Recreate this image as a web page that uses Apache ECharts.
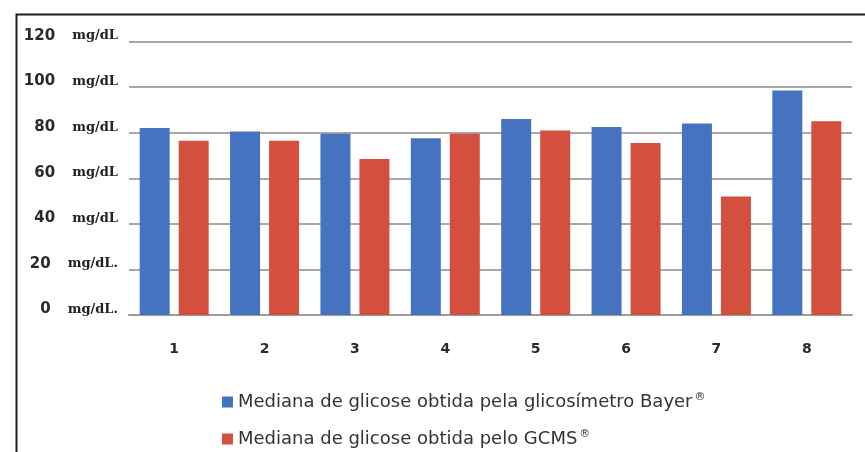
<!DOCTYPE html>
<html>
<head>
<meta charset="utf-8">
<script src="https://cdn.jsdelivr.net/npm/echarts@6/dist/echarts.min.js"></script>
<style>
  html, body { margin: 0; padding: 0; background: #ffffff; }
  #chart { width: 865px; height: 452px; }
</style>
</head>
<body>
<div id="chart"></div>
<script>
const categories = ['1', '2', '3', '4', '5', '6', '7', '8'];
const bayerValues = [82, 80.5, 79.5, 77.5, 86, 82.5, 84, 98.5];
const gcmsValues = [76.5, 76.5, 68.5, 79.5, 81, 75.5, 52, 85];
const yTickValues = [0, 20, 40, 60, 80, 100, 120];
const yTickUnits = ['mg/dL.', 'mg/dL.', 'mg/dL', 'mg/dL', 'mg/dL', 'mg/dL', 'mg/dL'];
const seriesNames = [
  'Mediana de glicose obtida pela glicosímetro Bayer®',
  'Mediana de glicose obtida pelo GCMS®'
];

const chart = echarts.init(document.getElementById('chart'), null, { renderer: 'canvas' });

const legendBase = {
  left: 217,
  itemWidth: 11,
  itemHeight: 11,
  icon: 'rect',
  formatter: function (name) {
    return '{t|' + name.replace('®', '}{s|®}');
  },
  textStyle: {
    fontFamily: 'DejaVu Sans', fontSize: 18, color: '#333333', lineHeight: 20,
    rich: {
      t: { fontFamily: 'DejaVu Sans', fontSize: 18, color: '#333333', lineHeight: 20 },
      s: { fontFamily: 'DejaVu Sans', fontSize: 11, color: '#333333', lineHeight: 20, padding: [0, 0, 9, 2] }
    }
  }
};

chart.setOption({
  backgroundColor: '#ffffff',
  animation: false,
  graphic: [{
    type: 'rect',
    left: 14, top: 12,
    shape: { x: 0, y: 0, width: 900, height: 500 },
    style: { fill: 'none', stroke: '#1e1e1e', lineWidth: 2 },
    silent: true
  }],
  grid: { left: 129, right: 13, top: 41.5, bottom: 137, containLabel: false },
  legend: [
    Object.assign({}, legendBase, { top: 387, data: [seriesNames[0]] }),
    Object.assign({}, legendBase, { top: 424, data: [seriesNames[1]] })
  ],
  xAxis: {
    type: 'category',
    data: categories,
    axisLine: { show: true, lineStyle: { color: '#9c9c9c', width: 2 } },
    axisTick: { show: false },
    axisLabel: {
      margin: 27,
      fontFamily: 'DejaVu Sans',
      fontWeight: 'bold',
      fontSize: 14,
      color: '#2a2a2a'
    }
  },
  yAxis: {
    type: 'value',
    min: 0,
    max: 120,
    interval: 20,
    axisLine: { show: false },
    axisTick: { show: false },
    splitLine: { show: true, lineStyle: { color: '#a8a8a8', width: 2 } },
    axisLabel: {
      margin: 11,
      verticalAlign: 'bottom',
      padding: [0, 0, -2, 0],
      formatter: function (v) {
        const i = yTickValues.indexOf(v);
        const unit = i >= 0 ? yTickUnits[i] : 'mg/dL';
        return '{n|' + v + '}{u|' + unit + '}';
      },
      rich: {
        n: { width: 32, align: 'right', fontFamily: 'DejaVu Sans', fontWeight: 'bold', fontSize: 15, color: '#2a2a2a' },
        u: { padding: [0, 0, 0, 17], fontFamily: 'DejaVu Serif', fontWeight: 'bold', fontSize: 13, color: '#222222' }
      }
    }
  },
  series: [
    {
      name: seriesNames[0],
      type: 'bar',
      data: bayerValues,
      barWidth: 30,
      barGap: '30%',
      itemStyle: { color: '#4673bf' }
    },
    {
      name: seriesNames[1],
      type: 'bar',
      data: gcmsValues,
      barWidth: 30,
      itemStyle: { color: '#d2503d' }
    }
  ]
});
</script>
</body>
</html>
